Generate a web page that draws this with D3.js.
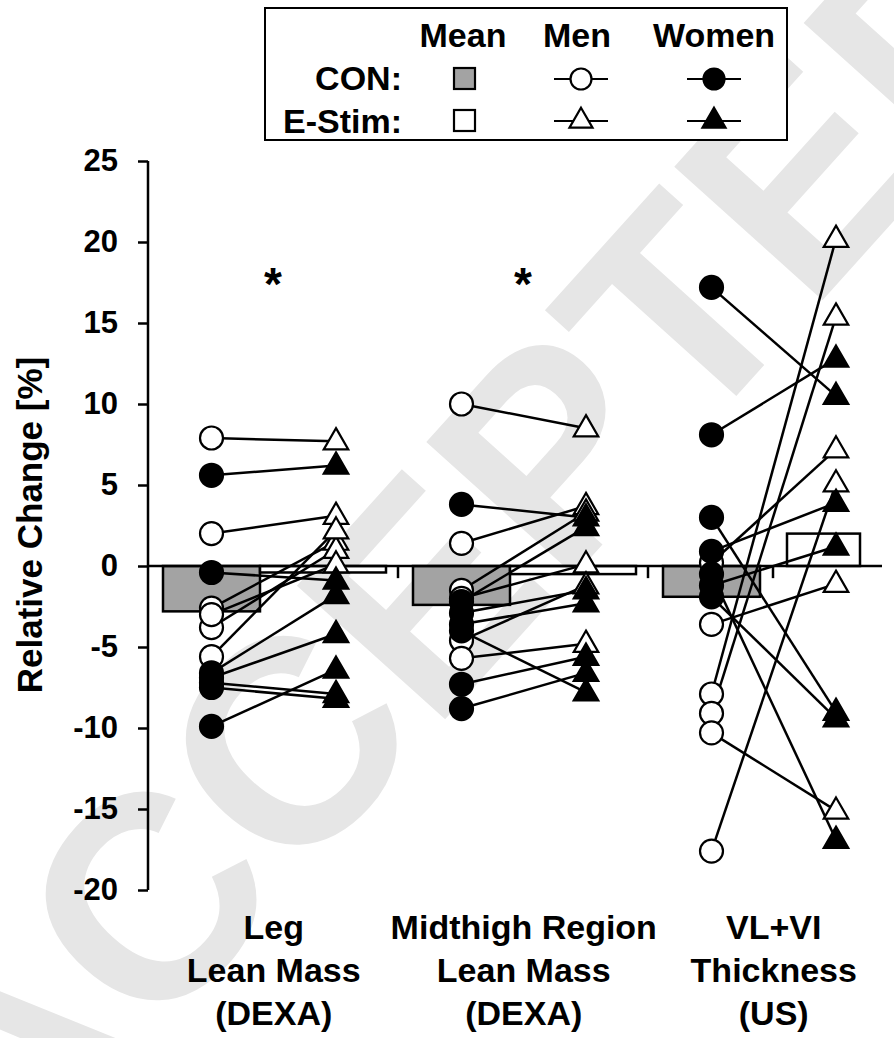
<!DOCTYPE html>
<html>
<head>
<meta charset="utf-8">
<script src="https://cdn.jsdelivr.net/npm/d3@7"></script>
<style>
    body { margin: 0; background: #fff; }
    svg { display: block; font-family: 'Liberation Sans', Arial, sans-serif; font-weight: bold; }
</style>
</head>
<body>
<div id="chart"></div>
<script>
// Chart data
const categoryLines = [['Leg', 'Lean Mass', '(DEXA)'], ['Midthigh Region', 'Lean Mass', '(DEXA)'], ['VL+VI', 'Thickness', '(US)']];
const meanCon = [-2.8, -2.4, -1.9];
const meanEstim = [-0.4, -0.5, 2.0];
const sigMarks = ['*', '*', ''];
const yTicks = [-20, -15, -10, -5, 0, 5, 10, 15, 20, 25];

// individual subjects: CON value -> E-Stim value (same index = same person)
const menCon = [
    [7.9, 2.0, -2.6, -3.8, -5.6, -3.0],
    [10.0, 1.4, -1.5, -2.0, -4.6, -5.7],
    [0.2, -3.6, -7.9, -9.1, -10.3, -17.6]
];
const menEstim = [
    [7.7, 3.1, 1.5, 1.0, 2.2, 0.1],
    [8.5, 3.7, 3.3, 0.1, -1.2, -4.8],
    [7.2, -1.1, 20.2, 15.4, -15.1, 5.1]
];
const womenCon = [
    [5.6, -0.4, -6.6, -6.9, -7.2, -7.5, -9.9],
    [3.8, -2.2, -2.9, -3.6, -4.0, -7.3, -8.8],
    [17.2, 8.1, 3.0, 0.9, -0.5, -1.2, -1.9]
];
const womenEstim = [
    [6.2, -0.9, -1.8, -4.2, -7.9, -8.2, -6.4],
    [3.0, 2.4, -1.5, -2.3, -7.8, -5.6, -6.6],
    [10.5, 12.8, -9.0, 3.9, -16.9, 1.2, -9.4]
];

const W = 894, H = 1038;
const GRAY = '#a3a3a3';

const svg = d3.select('#chart').append('svg')
    .attr('width', W)
    .attr('height', H);

// watermark
svg.append('text')
    .attr('x', 470).attr('y', 540)
    .attr('transform', 'rotate(-48 470 540)')
    .attr('text-anchor', 'middle')
    .attr('dy', '0.35em')
    .attr('fill', '#e6e6e6')
    .style('font-size', '290px')
    .text('ACCEPTED');

// Scales
const y = d3.scaleLinear().domain([-20, 25]).range([890, 161]);
const x = d3.scaleLinear().domain([0, 1]).range([211.5, 461.5]); // group index -> px
const conOff = 0, estimOff = 0.498;

// bar layout (in group units)
const whiteBar = [[0.194, 0.698], [0.194, 0.698], [0.302, 0.594]];
const errOff = [0.746, 0.746, 0.246];

const g = svg.append('g');

// Mean bars
g.selectAll('.bar-con').data(meanCon).enter().append('rect')
    .attr('class', 'bar-con')
    .attr('x', (d, i) => x(i - 0.194))
    .attr('width', x(0.194) - x(-0.194))
    .attr('y', d => Math.min(y(d), y(0)))
    .attr('height', d => Math.abs(y(d) - y(0)))
    .attr('fill', GRAY)
    .attr('stroke', '#000')
    .attr('stroke-width', 2.5);

g.selectAll('.bar-estim').data(meanEstim).enter().append('rect')
    .attr('class', 'bar-estim')
    .attr('x', (d, i) => x(i + whiteBar[i][0]))
    .attr('width', (d, i) => x(whiteBar[i][1]) - x(whiteBar[i][0]))
    .attr('y', d => Math.min(y(d), y(0)))
    .attr('height', d => Math.abs(y(d) - y(0)))
    .attr('fill', '#fff')
    .attr('stroke', '#000')
    .attr('stroke-width', 2.5);

// small error ticks
g.selectAll('.err').data(meanCon).enter().append('line')
    .attr('class', 'err')
    .attr('x1', (d, i) => x(i + errOff[i]))
    .attr('x2', (d, i) => x(i + errOff[i]))
    .attr('y1', y(0))
    .attr('y2', y(-0.75))
    .attr('stroke', '#000')
    .attr('stroke-width', 2.5);

// zero line
g.append('line')
    .attr('x1', 148).attr('x2', 882)
    .attr('y1', y(0)).attr('y2', y(0))
    .attr('stroke', '#000')
    .attr('stroke-width', 2.5);

// Axis
const yAxisG = g.append('g')
    .attr('transform', 'translate(148,0)')
    .call(d3.axisLeft(y).tickValues(yTicks).tickSize(10).tickPadding(20).tickFormat(d => String(d)));
yAxisG.select('.domain').attr('stroke-width', 2.5).attr('d', `M0,${y(25)}V${y(-20)}`);
yAxisG.selectAll('.tick line').attr('stroke-width', 2.5);
yAxisG.selectAll('.tick text')
    .style('font-size', '31px')
    .style('font-weight', 'bold')
    .attr('fill', '#000');

svg.append('text')
    .attr('transform', 'translate(42,525) rotate(-90)')
    .attr('text-anchor', 'middle')
    .style('font-size', '35px')
    .text('Relative Change [%]');

// subject lines + markers
function pairs(con, estim) {
    const out = [];
    con.forEach((arr, gi) => arr.forEach((v, k) => out.push({ g: gi, a: v, b: estim[gi][k] })));
    return out;
}
const men = pairs(menCon, menEstim);
const women = pairs(womenCon, womenEstim);
const all = men.concat(women);

g.selectAll('.link').data(all).enter().append('line')
    .attr('class', 'link')
    .attr('x1', d => x(d.g + conOff))
    .attr('x2', d => x(d.g + estimOff))
    .attr('y1', d => y(d.a))
    .attr('y2', d => y(d.b))
    .attr('stroke', '#000')
    .attr('stroke-width', 2.5);

const tri = d3.symbol(d3.symbolTriangle, 260);

function drawMarkers(data, fill) {
    g.selectAll(null).data(data).enter().append('path')
        .attr('d', tri)
        .attr('transform', d => `translate(${x(d.g + estimOff)},${y(d.b) + 1})`)
        .attr('fill', fill)
        .attr('stroke', '#000')
        .attr('stroke-width', 2.2);
    g.selectAll(null).data(data).enter().append('circle')
        .attr('cx', d => x(d.g + conOff))
        .attr('cy', d => y(d.a))
        .attr('r', 11.5)
        .attr('fill', fill)
        .attr('stroke', '#000')
        .attr('stroke-width', 2.2);
}
drawMarkers(men, '#fff');
drawMarkers(women, '#000');

// significance
g.selectAll('.sig').data(sigMarks).enter().append('text')
    .attr('class', 'sig')
    .attr('x', (d, i) => x(i + 0.246))
    .attr('y', 300)
    .attr('text-anchor', 'middle')
    .style('font-size', '46px')
    .text(d => d);

// category labels
const cat = svg.selectAll('.cat').data(categoryLines).enter().append('text')
    .attr('class', 'cat')
    .attr('text-anchor', 'middle')
    .style('font-size', '34px');
cat.selectAll('tspan').data((d, i) => d.map(t => ({ t, i }))).enter().append('tspan')
    .attr('x', d => x(d.i + 0.249))
    .attr('y', (d, k) => 939 + k * 43)
    .text(d => d.t);

// Legend
const leg = svg.append('g');
leg.append('rect')
    .attr('x', 265).attr('y', 8).attr('width', 522).attr('height', 132)
    .attr('fill', '#fff').attr('stroke', '#000').attr('stroke-width', 2);
const headX = [463, 577, 714];
const headers = ['Mean', 'Men', 'Women'];
leg.selectAll('.head').data(headers).enter().append('text')
    .attr('x', (d, i) => headX[i]).attr('y', 47)
    .attr('text-anchor', 'middle')
    .style('font-size', '34px')
    .text(d => d);
const rowY = [79, 121];
const rowBase = [90, 133];
['CON:', 'E-Stim:'].forEach((t, r) => {
    leg.append('text')
        .attr('x', 402).attr('y', rowBase[r])
        .attr('text-anchor', 'end')
        .style('font-size', '34px')
        .text(t);
    leg.append('rect')
        .attr('x', 454).attr('y', rowY[r] - 11)
        .attr('width', 21).attr('height', 21)
        .attr('fill', r === 0 ? GRAY : '#fff')
        .attr('stroke', '#000').attr('stroke-width', 2.2);
    [581, 714].forEach((cx, j) => {
        leg.append('line')
            .attr('x1', cx - 27).attr('x2', cx + 27)
            .attr('y1', rowY[r]).attr('y2', rowY[r])
            .attr('stroke', '#000').attr('stroke-width', 2.2);
        const fill = j === 0 ? '#fff' : '#000';
        if (r === 0) {
            leg.append('circle').attr('cx', cx).attr('cy', rowY[r]).attr('r', 10.5)
                .attr('fill', fill).attr('stroke', '#000').attr('stroke-width', 2.2);
        } else {
            leg.append('path').attr('d', d3.symbol(d3.symbolTriangle, 230))
                .attr('transform', `translate(${cx},${rowY[r]})`)
                .attr('fill', fill).attr('stroke', '#000').attr('stroke-width', 2.2);
        }
    });
});
</script>
</body>
</html>
